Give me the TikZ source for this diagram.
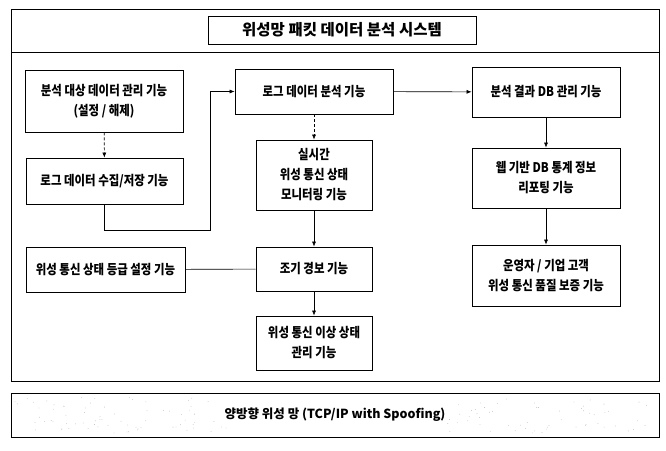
\documentclass[tikz,border=0pt]{standalone}
\usepackage{fontspec}
\newfontfamily\kr{Noto Sans CJK KR}[FakeStretch=0.86]
\newfontfamily\krt{Noto Sans CJK KR}
\usetikzlibrary{arrows.meta}
\begin{document}
\begin{tikzpicture}[x=1pt,y=-1pt,
  frame/.style={draw, line width=0.9pt},
  box/.style={draw, line width=0.8pt, rectangle, align=center, inner sep=0pt,
    font=\kr\bfseries\fontsize{13.3}{20}\selectfont},
  arr/.style={-{Latex[length=5pt,width=4pt]}, line width=0.6pt},
  darr/.style={arr, densely dashed},
  plain/.style={line width=0.6pt}]
\useasboundingbox (0,0) rectangle (666,450);
% frames
\draw[frame] (11,9) rectangle (659,381);
\draw[frame] (11,52) -- (659,52);
\node[box, line width=1pt, minimum width=268pt, minimum height=28pt,
  font=\krt\bfseries\fontsize{15.5}{17}\selectfont] (title) at (342,30) {위성망 패킷 데이터 분석 시스템};
% left column
\node[box, minimum width=158pt, minimum height=62pt] (b1) at (104,101) {분석 대상 데이터 관리 기능\\(설정 / 해제)};
\node[box, minimum width=157pt, minimum height=46pt] (b2) at (104.5,181) {로그 데이터 수집/저장 기능};
\node[box, minimum width=159pt, minimum height=45pt] (b3) at (105.5,269.5) {위성 통신 상태 등급 설정 기능};
% middle column
\node[box, minimum width=158pt, minimum height=45pt] (log) at (314,91.5) {로그 데이터 분석 기능};
\node[box, minimum width=116pt, minimum height=70pt] (rt) at (314,175) {실시간\\위성 통신 상태\\모니터링 기능};
\node[box, minimum width=116pt, minimum height=44pt] (ew) at (314,269) {조기 경보 기능};
\node[box, minimum width=116pt, minimum height=54pt] (ab) at (314,343) {위성 통신 이상 상태\\관리 기능};
% right column
\node[box, minimum width=148pt, minimum height=50pt] (db) at (546,92) {분석 결과 DB 관리 기능};
\node[box, minimum width=148pt, minimum height=60pt] (web) at (546,178) {웹 기반 DB 통계 정보\\리포팅 기능};
\node[box, minimum width=148pt, minimum height=61pt] (op) at (546,275.5) {운영자 / 기업 고객\\위성 통신 품질 보증 기능};
% bottom network box
\node[box, line width=0.9pt, minimum width=648pt, minimum height=44pt,
  font=\krt\bfseries\fontsize{12.5}{14}\selectfont] (net) at (335,415) {양방향 위성 망 (TCP/IP with Spoofing)};
\pgfmathsetseed{7}
\foreach \i in {1,...,200}{
  \pgfmathsetmacro{\px}{15+rnd*640}
  \pgfmathsetmacro{\py}{397+rnd*36}
  \pgfmathparse{(\px>228 && \px<442) ? 0 : 1}
  \ifnum\pgfmathresult=1
    \fill[black!30] (\px,\py) circle (0.4pt);
  \fi
}
% connectors
\coordinate (c2) at (210,230);
\draw[darr] (b1) -- (b2);
\draw[arr] (b2.south) |- (c2) |- (log.west);
\draw[arr] (log) -- (db);
\draw[darr] (log) -- (rt);
\draw[arr] (rt) -- (ew);
\draw[arr] (ew) -- (ab);
\draw[plain] (b3) -- (ew);
\draw[arr] (db) -- (web);
\draw[arr] (web) -- (op);
\end{tikzpicture}
\end{document}
